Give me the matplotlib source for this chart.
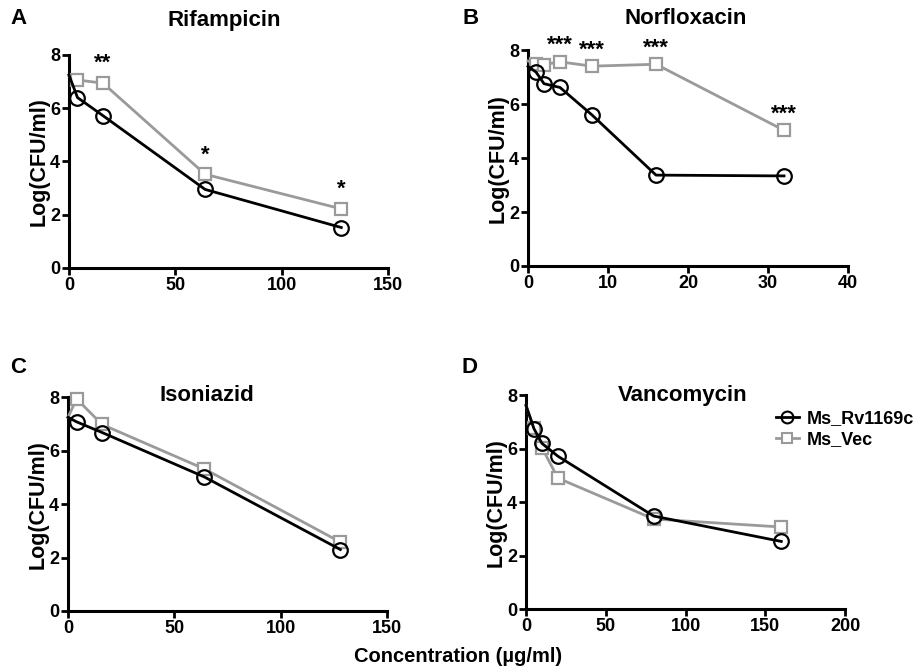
import numpy as np
import matplotlib
matplotlib.use("Agg")
import matplotlib.pyplot as plt
from matplotlib.lines import Line2D

plt.rcParams['font.family'] = ['Liberation Sans', 'DejaVu Sans']
plt.rcParams['font.weight'] = 'bold'

# concentrations (first point 0 = untreated, drawn without marker)
rif_x = [0, 4, 16, 64, 128]
rif_rv = [7.25, 6.4, 5.72, 2.95, 1.52]
rif_vec = [7.2, 7.06, 6.94, 3.52, 2.22]
rif_stars = {16: ('**', 7.3), 64: ('*', 3.85), 128: ('*', 2.55)}

nor_x = [0, 1, 2, 4, 8, 16, 32]
nor_rv = [7.4, 7.19, 6.76, 6.62, 5.6, 3.37, 3.34]
nor_vec = [7.6, 7.5, 7.47, 7.57, 7.41, 7.48, 5.03]
nor_stars = {4: ('***', 7.8), 8: ('***', 7.62), 16: ('***', 7.68), 32: ('***', 5.25)}

iso_x = [0, 4, 16, 64, 128]
iso_rv = [7.25, 7.08, 6.68, 5.02, 2.3]
iso_vec = [7.25, 7.94, 6.98, 5.32, 2.58]

van_x = [0, 5, 10, 20, 80, 160]
van_rv = [7.62, 6.75, 6.2, 5.72, 3.48, 2.53]
van_vec = [7.62, 6.78, 6.04, 4.9, 3.37, 3.07]

gray = '#9a9a9a'

fig = plt.figure(figsize=(9.17, 6.70), dpi=100)

panels = [
    # rect, x, rv, vec, xmax, xticks, title, title_pos, letter, letter_pos, stars
    ([0.0752, 0.600, 0.348, 0.318], rif_x, rif_rv, rif_vec, 150, [0, 50, 100, 150],
     'Rifampicin', (0.245, 0.969), 'A', (0.011, 0.973), rif_stars),
    ([0.5758, 0.603, 0.349, 0.322], nor_x, nor_rv, nor_vec, 40, [0, 10, 20, 30, 40],
     'Norfloxacin', (0.748, 0.972), 'B', (0.504, 0.973), nor_stars),
    ([0.0742, 0.0881, 0.348, 0.319], iso_x, iso_rv, iso_vec, 150, [0, 50, 100, 150],
     'Isoniazid', (0.226, 0.410), 'C', (0.011, 0.451), None),
    ([0.5736, 0.091, 0.348, 0.319], van_x, van_rv, van_vec, 200, [0, 50, 100, 150, 200],
     'Vancomycin', (0.744, 0.410), 'D', (0.503, 0.451), None),
]

for rect, x, rv, vec, xmax, xticks, title, tpos, letter, lpos, stars in panels:
    ax = fig.add_axes(rect)
    ax.plot(x, vec, color=gray, lw=2.0, marker='s', ms=8.5, mfc='white',
            mec=gray, mew=1.6, markevery=slice(1, None), clip_on=False, zorder=3)
    ax.plot(x, rv, color='black', lw=2.0, marker='o', ms=10.5, mfc='none',
            mec='black', mew=1.6, markevery=slice(1, None), clip_on=False, zorder=4)
    ax.set_xlim(0, xmax)
    ax.set_ylim(0, 8)
    ax.set_xticks(xticks)
    ax.set_yticks([0, 2, 4, 6, 8])
    for s in ['top', 'right']:
        ax.spines[s].set_visible(False)
    for s in ['left', 'bottom']:
        ax.spines[s].set_linewidth(2.2)
    ax.tick_params(direction='out', length=5, width=2, labelsize=13, pad=1.5)
    for lab in ax.get_xticklabels() + ax.get_yticklabels():
        lab.set_fontweight('bold')
    ax.set_ylabel('Log(CFU/ml)', fontsize=15.5, fontweight='bold', labelpad=0)
    fig.text(tpos[0], tpos[1], title, fontsize=16, fontweight='bold',
             ha='center', va='center')
    fig.text(lpos[0], lpos[1], letter, fontsize=16, fontweight='bold',
             ha='left', va='center')
    if stars:
        for xs, (txt, ys) in stars.items():
            ax.text(xs, ys, txt, fontsize=16, fontweight='bold',
                    ha='center', va='bottom')

handles = [
    Line2D([0], [0], color='black', lw=2, marker='o', ms=8.5, mfc='none', mew=1.5),
    Line2D([0], [0], color=gray, lw=2, marker='s', ms=7, mfc='white', mec=gray, mew=1.5),
]
fig.legend(handles, ['Ms_Rv1169c', 'Ms_Vec'], loc='upper left',
           bbox_to_anchor=(0.838, 0.399), frameon=False,
           handlelength=1.3, handletextpad=0.4, labelspacing=0.25,
           borderaxespad=0, prop={'weight': 'bold', 'size': 13})

fig.text(0.5, 0.02, 'Concentration (µg/ml)', fontsize=14.5, fontweight='bold',
         ha='center', va='center')

fig.savefig('out.png', dpi=100)
